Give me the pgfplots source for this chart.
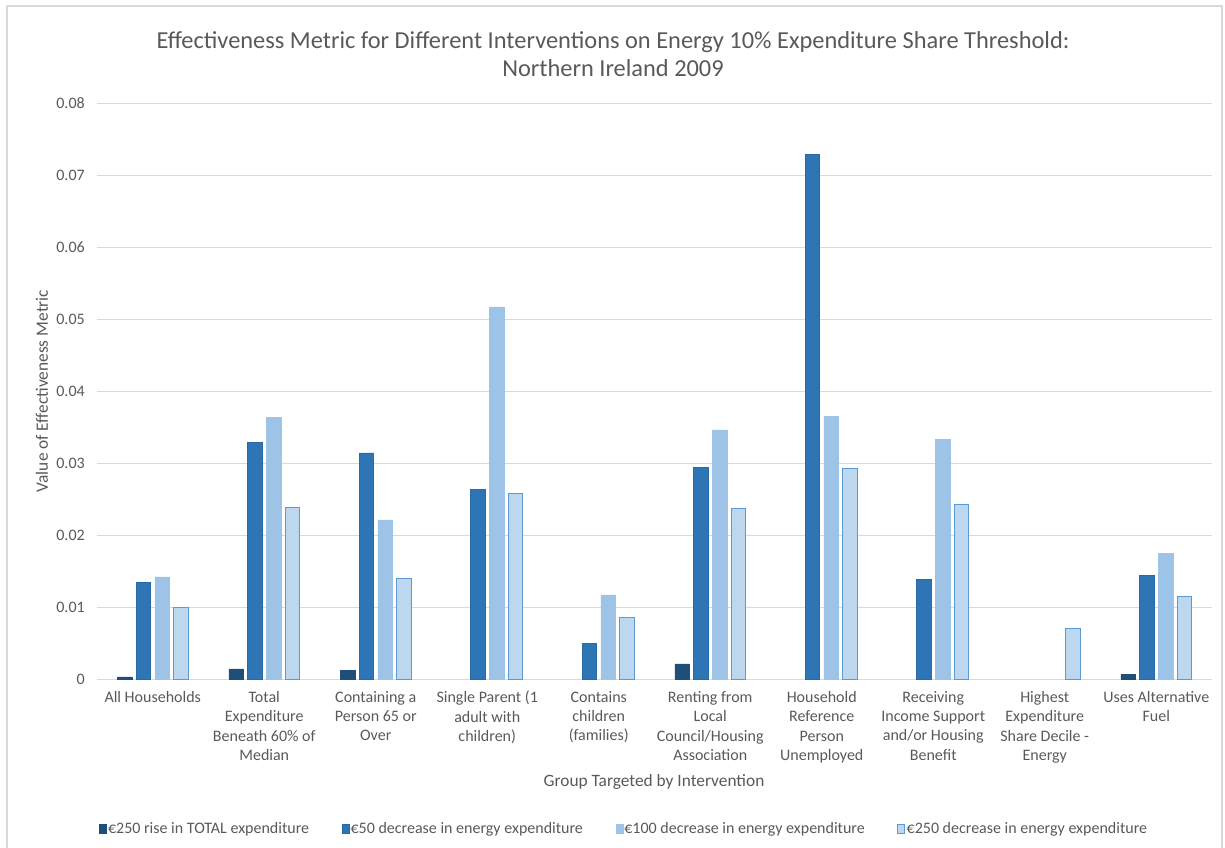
\documentclass[border=0pt]{standalone}
\usepackage{pgfplots}
\pgfplotsset{compat=1.18}
\usepackage{fontspec}
\setmainfont{Carlito}

\definecolor{txtgray}{HTML}{595959}
\definecolor{gridgray}{HTML}{D9D9D9}
\definecolor{frame}{HTML}{D9D9D9}
\definecolor{bluedark}{HTML}{1F4E79}
\definecolor{bluemid}{HTML}{2E75B6}
\definecolor{bluelight}{HTML}{9DC3E6}
\definecolor{bluepale}{HTML}{BDD7EE}
\definecolor{blueedge}{HTML}{5B9BD5}

\begin{document}
\begin{tikzpicture}
% page size: 1225 x 847 units of 0.75pt
\begin{scope}[x=0.75pt,y=-0.75pt]
  \path[use as bounding box] (0,0) rectangle (1225,847);
  \draw[frame,line width=0.9pt] (7,6) rectangle (1222,870);
  \node[txtgray,align=center,font=\fontsize{18.3}{21}\selectfont] at (613,54)
    {Effectiveness Metric for Different Interventions on Energy 10\% Expenditure Share Threshold:\\Northern Ireland 2009};
  \node[txtgray,rotate=90,font=\fontsize{13}{15}\selectfont] at (42,391) {Value of Effectiveness Metric};
  \node[txtgray,font=\fontsize{13}{15}\selectfont] at (654,782) {Group Targeted by Intervention};
\end{scope}

\begin{axis}[
  at={(72.75pt,-509.25pt)}, anchor=south west,
  scale only axis, width=836.25pt, height=432pt,
  xmin=-0.5, xmax=9.5, ymin=0, ymax=0.08,
  scaled y ticks=false,
  ytick={0,0.01,0.02,0.03,0.04,0.05,0.06,0.07,0.08},
  yticklabels={0,0.01,0.02,0.03,0.04,0.05,0.06,0.07,0.08},
  xtick={0,1,2,3,4,5,6,7,8,9},
  xticklabels={
    All Households,
    Total\\Expenditure\\Beneath 60\% of\\Median,
    Containing a\\Person 65 or\\Over,
    Single Parent (1\\adult with\\children),
    Contains\\children\\(families),
    Renting from\\Local\\Council/Housing\\Association,
    Household\\Reference\\Person\\Unemployed,
    Receiving\\Income Support\\and/or Housing\\Benefit,
    Highest\\Expenditure\\Share Decile -\\Energy,
    Uses Alternative\\Fuel},
  major tick length=0pt,
  axis line style={draw=none},
  ymajorgrids, grid style={gridgray,line width=0.75pt},
  tick label style={txtgray,font=\fontsize{12}{14.5}\selectfont},
  y tick label style={inner sep=0pt,anchor=east,xshift=-9pt},
  x tick label style={inner sep=0pt,anchor=north,align=center,yshift=-9pt},
  ybar, bar width=0.13,
  legend columns=4,
  legend style={at={(0.4725,-0.2604)}, anchor=center, draw=none, fill=none,
    text=txtgray, font=\fontsize{12}{14.5}\selectfont,
    nodes={inner sep=1pt},
    /tikz/every even column/.append style={column sep=23.5pt}},
  legend image code/.code={\draw[#1] (0pt,-3.2pt) rectangle (5.2pt,3.4pt);},
]
\addplot[fill=bluedark, draw=bluedark, bar shift=-0.252] coordinates {
  (0,0.0003) (1,0.0014) (2,0.0012) (5,0.0021) (9,0.0006)};
\addplot[fill=bluemid, draw=bluemid!90!black, bar shift=-0.084] coordinates {
  (0,0.0134) (1,0.0329) (2,0.0314) (3,0.0263) (4,0.0049) (5,0.0294) (6,0.0729) (7,0.0138) (9,0.0144)};
\addplot[fill=bluelight, draw=bluelight, bar shift=0.084] coordinates {
  (0,0.0142) (1,0.0363) (2,0.0221) (3,0.0517) (4,0.0117) (5,0.0346) (6,0.0365) (7,0.0333) (9,0.0174)};
\addplot[fill=bluepale, draw=blueedge, line width=0.75pt, bar shift=0.252] coordinates {
  (0,0.0100) (1,0.0238) (2,0.0140) (3,0.0257) (4,0.0085) (5,0.0237) (6,0.0292) (7,0.0242) (8,0.0070) (9,0.0115)};
\legend{€250 rise in TOTAL expenditure, €50 decrease in energy expenditure, €100 decrease in energy expenditure, €250 decrease in energy expenditure}
\end{axis}
\end{tikzpicture}
\end{document}
